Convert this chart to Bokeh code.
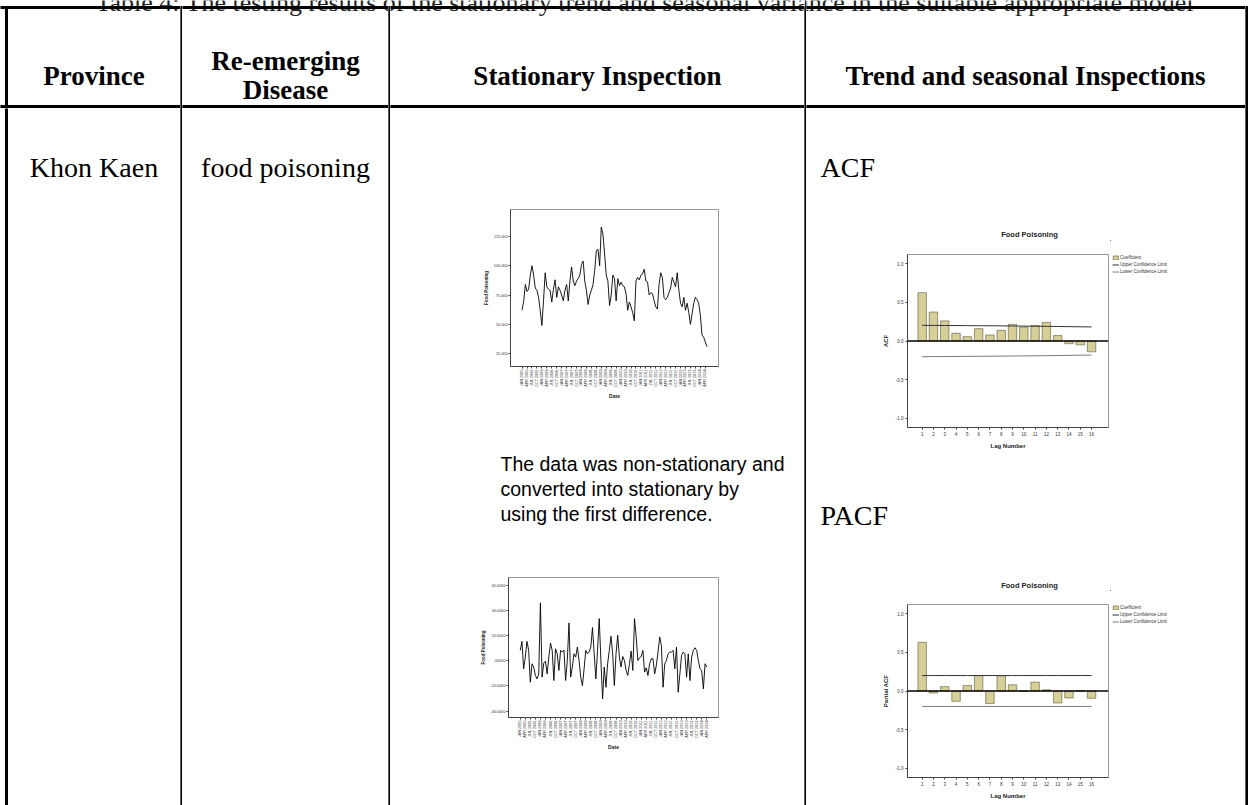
import math
from bokeh.plotting import figure
from bokeh.layouts import column, row
from bokeh.models import Range1d, FixedTicker, Legend, LegendItem, Span
from bokeh.core.properties import value
from bokeh.embed import file_html
from bokeh.resources import INLINE

# ---------------- texts ----------------
caption_text = ("Table 4: The testing results of the stationary trend and seasonal variance "
                "in the suitable appropriate model")
header_cells = ["Province", "Re-emerging", "Disease", "Stationary Inspection",
                "Trend and seasonal Inspections"]
province_name = "Khon Kaen"
disease_name = "food poisoning"
stationary_note = ["The data was non-stationary and",
                   "converted into stationary by",
                   "using the first difference."]
acf_heading = "ACF"
pacf_heading = "PACF"
chart_title = "Food Poisoning"

# ---------------- data ----------------
level_values = [62, 70, 84, 78, 80, 92, 100, 92, 81, 79,
                73, 62, 49, 70, 94, 82, 80, 79, 69, 80,
                88, 73, 82, 79, 75, 70, 79, 84, 70, 87,
                99, 87, 83, 87, 89, 92, 101, 104, 87, 79,
                67, 75, 79, 84, 96, 113, 114, 100, 133, 127,
                110, 92, 87, 66, 75, 92, 89, 70, 89, 83,
                86, 83, 82, 76, 62, 69, 65, 60, 53, 87,
                90, 88, 92, 93, 97, 87, 86, 75, 77, 76,
                70, 65, 63, 84, 94, 90, 73, 71, 73, 77,
                81, 90, 86, 82, 94, 79, 68, 65, 73, 62,
                68, 60, 50, 59, 68, 73, 71, 68, 58, 41,
                39, 35, 31]
diff_values = [8.2, 15.4, -6.4, 2.9, 15.4, 8.2, -17.0, -2.4, -5.0, -11.7,
               -14.4, -10.4, 45.9, -13.0, -1.9, -0.3, -10.4, 2.9, 14.0, 8.2,
               -15.7, 9.5, 5.5, -7.7, 8.2, 7.0, 8.5, -15.7, 0.2, 30.0,
               -13.0, -5.0, 5.5, 2.9, 10.9, 0.2, -13.0, -19.7, -6.4, 8.2,
               5.5, 6.9, 10.9, 26.3, 5.5, -14.4, 8.2, 33.4, 0.2, -30.3,
               -5.0, -21.0, -2.4, 8.2, 19.4, 5.5, -19.7, 5.5, 20.2, 2.9,
               -5.0, 3.4, 0.2, -7.7, -11.7, -2.4, 7.7, -7.7, 33.4, 18.8,
               0.2, 2.4, 3.4, 8.2, -9.0, -5.6, -11.7, -2.4, 1.6, 1.6,
               -10.4, -3.7, 6.9, 18.8, 12.2, -21.0, -2.4, 0.2, 5.5, 6.9,
               6.9, 8.2, -6.4, 10.9, -25.0, -10.4, 4.2, 6.9, 5.5, -13.0,
               5.5, -15.7, 2.9, 8.2, 10.3, 8.2, 0.2, -6.4, -7.7, -22.3,
               -2.4, -5.0]
date_months = ["JAN", "APR", "JUL", "OCT"]
date_years = ["2005", "2006", "2007", "2008", "2009", "2010", "2011", "2012", "2013", "2014"]
level_ticks = [25, 50, 75, 100, 125]
level_tick_labels = ["25.000", "50.000", "75.000", "100.000", "125.000"]
diff_ticks = [-40, -20, 0, 20, 40, 60]
diff_tick_labels = ["-40.0000", "-20.0000", ".00000", "20.0000", "40.0000", "60.0000"]

lags = [1, 2, 3, 4, 5, 6, 7, 8, 9, 10, 11, 12, 13, 14, 15, 16]
acf_values = [0.625, 0.375, 0.26, 0.10, 0.056, 0.16, 0.078, 0.138,
              0.215, 0.18, 0.20, 0.24, 0.07, -0.035, -0.05, -0.14]
acf_upper = [0.203, 0.202, 0.201, 0.200, 0.199, 0.198, 0.197, 0.196,
             0.194, 0.193, 0.191, 0.190, 0.188, 0.186, 0.184, 0.182]
acf_lower = [-0.203, -0.202, -0.201, -0.200, -0.199, -0.198, -0.197, -0.196,
             -0.194, -0.193, -0.191, -0.190, -0.188, -0.186, -0.184, -0.182]
pacf_values = [0.63, -0.026, 0.056, -0.133, 0.07, 0.20, -0.163, 0.197,
               0.08, -0.005, 0.115, 0.015, -0.155, -0.09, 0.005, -0.094]
pacf_upper = [0.20] * 16
pacf_lower = [-0.20] * 16
corr_ticks = [-1.0, -0.5, 0.0, 0.5, 1.0]
corr_tick_labels = ["-1.0", "-0.5", "0.0", "0.5", "1.0"]
legend_labels = ["Coefficient", "Upper Confidence Limit", "Lower Confidence Limit"]

# ---------------- styles / layout ----------------
SERIF = value("Liberation Serif")
SANS = "Liberation Sans"
BAR_FILL = "#d6cf98"
BAR_LINE = "#5c5838"
UPPER_COLOR = "#333333"
LOWER_COLOR = "#7a7a7a"
W, H = 1250, 805
TOP_Y = 6          # table top border (page pixels)
HDR_Y = 108        # bottom of header row


def cell(x0, x1, y0, y1):
    p = figure(width=x1 - x0, height=y1 - y0, x_range=Range1d(x0, x1), y_range=Range1d(y1, y0),
               x_axis_type=None, y_axis_type=None, min_border=0, frame_align=False,
               output_backend="svg", toolbar_location=None)
    p.outline_line_color = None
    p.background_fill_color = "white"
    p.border_fill_color = "white"
    return p


def add_caption(p):
    p.text(x=[95], y=[1.5], text=[caption_text], text_font=SERIF, text_font_size="26px",
           text_color="#222222", text_align="left", text_baseline="alphabetic")


def rule_cell(x0, x1, rx0, rx1):
    p = cell(x0, x1, 0, H)
    p.quad(left=[rx0], right=[rx1], top=[TOP_Y], bottom=[H], color="black")
    add_caption(p)
    return p


def header(x0, x1):
    p = cell(x0, x1, 0, HDR_Y)
    add_caption(p)
    p.quad(left=[x0], right=[x1], top=[TOP_Y], bottom=[TOP_Y + 2], color="black")
    p.quad(left=[x0], right=[x1], top=[HDR_Y - 3], bottom=[HDR_Y], color="black")
    return p


def style_small_axes(p):
    for ax in (p.xaxis[0], p.yaxis[0]):
        ax.major_label_text_font = SANS
        ax.axis_label_text_font = SANS
        ax.axis_label_text_font_style = "bold"
        ax.axis_line_color = "#444444"
        ax.major_tick_line_color = "#444444"
        ax.minor_tick_line_color = None
        ax.major_tick_in = 0
        ax.major_tick_out = 2
        ax.major_label_text_color = "#333333"
        ax.axis_label_text_color = "#222222"
    p.grid.visible = False
    p.outline_line_color = "#999999"
    p.background_fill_color = "white"
    p.border_fill_color = "white"


def line_chart(values, box, frame, yrange, yticks, ylabels):
    x0, x1, y0, y1 = box
    fl, ft, fr, fb = frame
    n = len(values)
    x = list(range(n))
    p = figure(width=x1 - x0, height=y1 - y0, x_range=Range1d(-7, n + 6),
               y_range=Range1d(*yrange), frame_align=False,
               min_border_left=fl - x0, min_border_right=x1 - fr,
               min_border_top=ft - y0, min_border_bottom=y1 - fb,
               output_backend="svg", toolbar_location=None)
    p.line(x, values, line_color="black", line_width=0.9)
    style_small_axes(p)
    tick_pos = list(range(0, n, 3))
    date_labels = [f"{m} {y}" for y in date_years for m in date_months]
    p.xaxis.ticker = FixedTicker(ticks=tick_pos)
    p.xaxis.major_label_overrides = {t: date_labels[i] for i, t in enumerate(tick_pos)}
    p.xaxis.major_label_orientation = math.pi / 2
    p.xaxis.major_label_text_font_size = "3.8px"
    p.xaxis.major_label_standoff = 1
    p.xaxis.axis_label = "Date"
    p.xaxis.axis_label_text_font_size = "5px"
    p.xaxis.axis_label_standoff = 3
    p.yaxis.ticker = FixedTicker(ticks=yticks)
    p.yaxis.major_label_overrides = dict(zip(yticks, ylabels))
    p.yaxis.major_label_text_font_size = "3.8px"
    p.yaxis.major_label_standoff = 1
    p.yaxis.axis_label = chart_title
    p.yaxis.axis_label_text_font_size = "4.5px"
    p.yaxis.axis_label_standoff = 2
    return p


def corr_chart(values, upper, lower, ylabel, box, frame):
    x0, x1, y0, y1 = box
    fl, ft, fr, fb = frame
    p = figure(width=x1 - x0, height=y1 - y0, x_range=Range1d(-0.3, 17.5),
               y_range=Range1d(-1.12, 1.12), frame_align=False,
               min_border_left=fl - x0, min_border_right=x1 - fr,
               min_border_top=ft - y0, min_border_bottom=y1 - fb,
               output_backend="svg", toolbar_location=None)
    p.vbar(x=lags, top=values, width=0.75, bottom=0, fill_color=BAR_FILL,
           line_color=BAR_LINE, line_width=0.6)
    p.line(lags, upper, line_color=UPPER_COLOR, line_width=1)
    p.line(lags, lower, line_color=LOWER_COLOR, line_width=1)
    p.add_layout(Span(location=0, dimension="width", line_color="black", line_width=1.3))
    style_small_axes(p)
    p.xaxis.ticker = FixedTicker(ticks=lags)
    p.xaxis.major_label_text_font_size = "4.5px"
    p.xaxis.major_label_standoff = 2
    p.xaxis.axis_label = "Lag Number"
    p.xaxis.axis_label_text_font_size = "6px"
    p.xaxis.axis_label_standoff = 4
    p.yaxis.ticker = FixedTicker(ticks=corr_ticks)
    p.yaxis.major_label_overrides = dict(zip(corr_ticks, corr_tick_labels))
    p.yaxis.major_label_text_font_size = "4.5px"
    p.yaxis.major_label_standoff = 2
    p.yaxis.axis_label = ylabel
    p.yaxis.axis_label_text_font_size = "6px"
    p.yaxis.axis_label_standoff = 4
    return p


def legend_panel(box, legend_top, values, upper, lower):
    # legend for the correlogram, drawn beside its frame; the series themselves
    # fall outside this panel's ranges, so only the legend swatches show
    x0, x1, y0, y1 = box
    p = cell(x0, x1, y0, y1)
    bars = p.vbar(x=lags, top=values, width=0.75, bottom=0, fill_color=BAR_FILL,
                  line_color=BAR_LINE, line_width=0.6)
    up = p.line(lags, upper, line_color=UPPER_COLOR, line_width=1)
    lo = p.line(lags, lower, line_color=LOWER_COLOR, line_width=1)
    leg_h = 21
    leg = Legend(items=[LegendItem(label=legend_labels[0], renderers=[bars]),
                        LegendItem(label=legend_labels[1], renderers=[up]),
                        LegendItem(label=legend_labels[2], renderers=[lo])],
                 location=(2, (y1 - y0) - (legend_top - y0) - leg_h),
                 label_text_font=SANS, label_text_font_size="4.5px",
                 label_text_color="#333333", glyph_width=7, glyph_height=5,
                 label_height=7, label_standoff=1, spacing=0, padding=0, margin=0,
                 border_line_color=None, background_fill_alpha=0)
    p.add_layout(leg, "center")
    return p


# ---------------- column A: province (includes left border) ----------------
hA = header(0, 180)
hA.quad(left=[5], right=[7], top=[TOP_Y], bottom=[HDR_Y], color="black")
hA.text(x=[93.5], y=[75], text=[header_cells[0]], text_font=SERIF, text_font_size="27px",
        text_font_style="bold", text_align="center", text_baseline="middle")
bA = cell(0, 180, HDR_Y, H)
bA.quad(left=[5], right=[7], top=[HDR_Y], bottom=[H], color="black")
bA.text(x=[93.5], y=[167], text=[province_name], text_font=SERIF, text_font_size="28px",
        text_align="center", text_baseline="alphabetic")
colA = column(hA, bA)

# ---------------- column B: disease ----------------
hB = header(182, 388)
hB.text(x=[285, 285], y=[60, 89], text=header_cells[1:3], text_font=SERIF,
        text_font_size="27px", text_font_style="bold", text_align="center",
        text_baseline="middle")
bB = cell(182, 388, HDR_Y, H)
bB.text(x=[285], y=[167], text=[disease_name], text_font=SERIF, text_font_size="28px",
        text_align="center", text_baseline="alphabetic")
colB = column(hB, bB)

# ---------------- column C: stationary inspection ----------------
cx0, cx1 = 390, 804
hC = header(cx0, cx1)
hC.text(x=[597], y=[75], text=[header_cells[3]], text_font=SERIF, text_font_size="27px",
        text_font_style="bold", text_align="center", text_baseline="middle")
gapC = cell(cx0, cx1, HDR_Y, 200)
chart_level = line_chart(level_values, (cx0, cx1, 200, 405), (510, 209, 718, 366),
                         (14, 148), level_ticks, level_tick_labels)
noteC = cell(cx0, cx1, 405, 570)
noteC.text(x=[500, 500, 500], y=[463, 488, 513], text=stationary_note,
           text_font=value(SANS), text_font_size="19.5px", text_align="left",
           text_baseline="alphabetic")
chart_diff = line_chart(diff_values, (cx0, cx1, 570, H), (508, 577, 718, 717),
                        (-45, 66), diff_ticks, diff_tick_labels)
colC = column(hC, gapC, chart_level, noteC, chart_diff)

# ---------------- column D: ACF / PACF ----------------
dx0, dx1, lx = 806, 1245, 1110
hD = header(dx0, dx1)
hD.text(x=[1025], y=[75], text=[header_cells[4]], text_font=SERIF, text_font_size="27px",
        text_font_style="bold", text_align="center", text_baseline="middle")
acfD = cell(dx0, dx1, HDR_Y, 240)
acfD.text(x=[820], y=[167], text=[acf_heading], text_font=SERIF, text_font_size="28px",
          text_align="left", text_baseline="alphabetic")
acfD.text(x=[1029], y=[234], text=[chart_title], text_font=value(SANS),
          text_font_size="7.5px", text_font_style="bold", text_color="#222222",
          text_align="center", text_baseline="middle")
chart_acf = corr_chart(acf_values, acf_upper, acf_lower, "ACF", (dx0, lx, 240, 452),
                       (907, 254, 1108, 427))
leg_acf = legend_panel((lx, dx1, 240, 452), 254, acf_values, acf_upper, acf_lower)
pacfD = cell(dx0, dx1, 452, 590)
pacfD.text(x=[820], y=[515], text=[pacf_heading], text_font=SERIF, text_font_size="28px",
           text_align="left", text_baseline="alphabetic")
pacfD.text(x=[1029], y=[585], text=[chart_title], text_font=value(SANS),
           text_font_size="7.5px", text_font_style="bold", text_color="#222222",
           text_align="center", text_baseline="middle")
chart_pacf = corr_chart(pacf_values, pacf_upper, pacf_lower, "Partial ACF",
                        (dx0, lx, 590, H), (907, 604, 1108, 777))
leg_pacf = legend_panel((lx, dx1, 590, H), 604, pacf_values, pacf_upper, pacf_lower)
colD = column(hD, acfD, row(chart_acf, leg_acf), pacfD, row(chart_pacf, leg_pacf))

# ---------------- assemble ----------------
root = row(colA, rule_cell(180, 182, 180, 182), colB, rule_cell(388, 390, 388, 390),
           colC, rule_cell(804, 806, 804, 806), colD, rule_cell(1245, W, 1245, 1247))

with open("out.html", "w") as f:
    f.write(file_html(root, INLINE))
